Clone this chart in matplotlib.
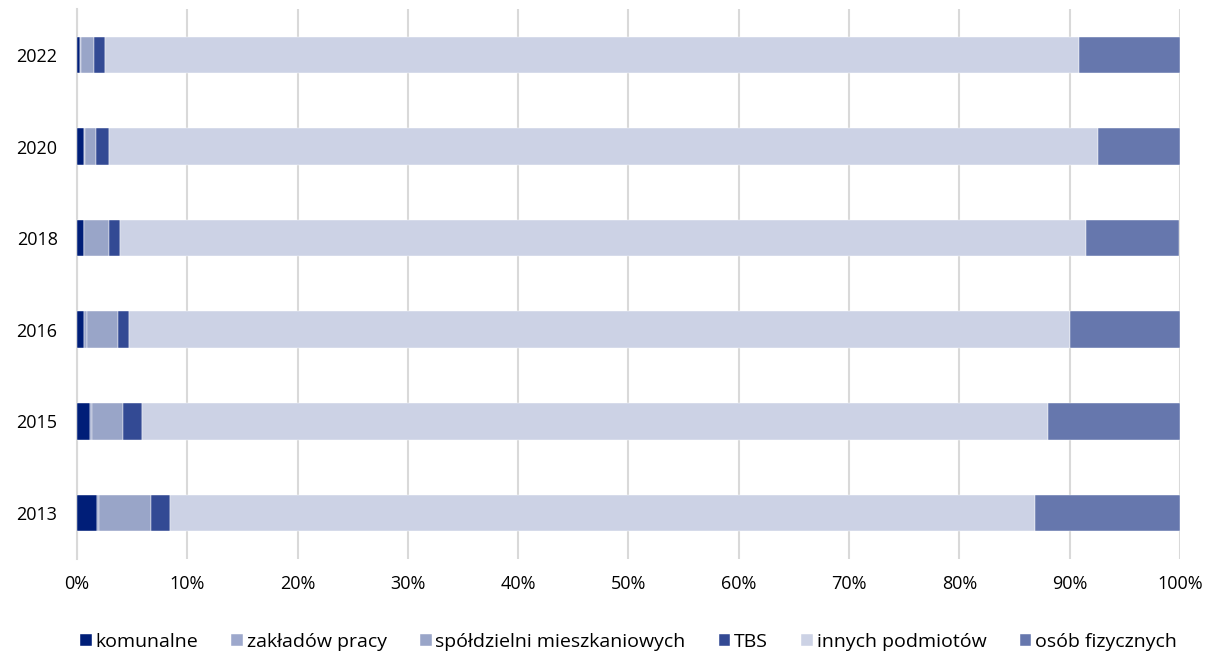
import numpy as np
import matplotlib.pyplot as plt

plt.rcParams['font.family'] = ['Open Sans', 'DejaVu Sans']

years = ["2013", "2015", "2016", "2018", "2020", "2022"]
komunalne = [1.81, 1.18, 0.60, 0.60, 0.63, 0.27]
zaklady_pracy = [0.18, 0.21, 0.30, 0.05, 0.05, 0.05]
spoldzielnie = [4.71, 2.75, 2.78, 2.22, 1.04, 1.19]
tbs = [1.72, 1.75, 1.03, 1.03, 1.18, 1.05]
inne = [78.40, 82.10, 85.30, 87.60, 89.67, 88.25]
osoby = [13.17, 12.03, 9.97, 8.43, 7.43, 9.18]

series = [
    ("komunalne", komunalne, "#001E78"),
    ("zakładów pracy", zaklady_pracy, "#9DA8CC"),
    ("spółdzielni mieszkaniowych", spoldzielnie, "#99A5C8"),
    ("TBS", tbs, "#334A94"),
    ("innych podmiotów", inne, "#CCD2E5"),
    ("osób fizycznych", osoby, "#6677AD"),
]

fig, ax = plt.subplots(figsize=(12.09, 6.54), dpi=100)
fig.subplots_adjust(left=0.0637, right=0.976, top=0.986, bottom=0.1456)

y = np.arange(len(years))
left = np.zeros(len(years))
for name, vals, col in series:
    vals = np.array(vals)
    ax.barh(y, vals, left=left, height=0.4, color=col, label=name,
            edgecolor="white", linewidth=0.3, zorder=3)
    left += vals

ax.set_xlim(0, 100)
ax.set_ylim(-0.5, len(years) - 0.5)
ax.set_yticks(y)
ax.set_yticklabels(years, fontsize=13)
ax.set_xticks(np.arange(0, 101, 10))
ax.set_xticklabels([f"{v}%" for v in range(0, 101, 10)], fontsize=13)
ax.xaxis.grid(True, color="#D9D9D9", linewidth=1.5, zorder=0)
ax.tick_params(axis="x", length=0, pad=12)
ax.tick_params(axis="y", length=0, pad=14)
for s in ["top", "right", "bottom"]:
    ax.spines[s].set_visible(False)
ax.spines["left"].set_color("#D9D9D9")
ax.spines["left"].set_linewidth(1.5)

ax.legend(loc="center", bbox_to_anchor=(0.5, -0.151), ncol=6, frameon=False,
          fontsize=14, handlelength=0.6, handleheight=0.6, handletextpad=0.2,
          columnspacing=1.7, borderpad=0)

fig.savefig("out.png", dpi=100)
